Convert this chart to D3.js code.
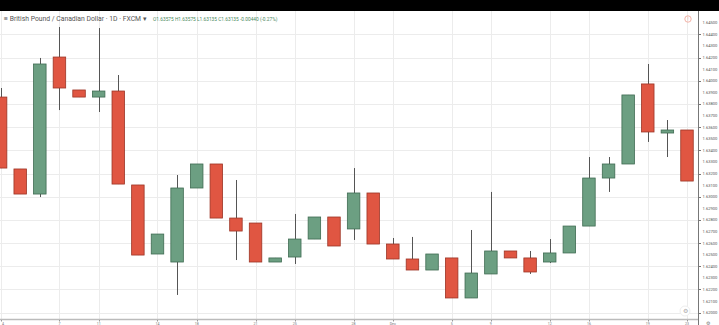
<!DOCTYPE html>
<html><head><meta charset="utf-8">
<script src="https://cdn.jsdelivr.net/npm/d3@7"></script>
<style>html,body{margin:0;padding:0;background:#fff;overflow:hidden}svg{display:block}</style>
</head><body>
<script>
const dates = ["Mon 4","Tue 5","Wed 6","Thu 7","Fri 8","Mon 11","Tue 12","Wed 13","Thu 14","Fri 15","Mon 18","Tue 19","Wed 20","Thu 21","Fri 22","Mon 25","Tue 26","Wed 27","Thu 28","Fri 29","Mon 2","Tue 3","Wed 4","Thu 5","Fri 6","Mon 9","Tue 10","Wed 11","Thu 12","Fri 13","Mon 16","Tue 17","Wed 18","Thu 19","Fri 20","Mon 23"];
const open  = [1.63859,1.63239,1.63023,1.64204,1.63920,1.63859,1.63911,1.63101,1.62506,1.62437,1.63075,1.63282,1.62816,1.62773,1.62437,1.62480,1.62635,1.62825,1.62722,1.63032,1.62592,1.62463,1.62368,1.62472,1.62127,1.62334,1.62532,1.62472,1.62437,1.62515,1.62747,1.63161,1.63282,1.63972,1.63549,1.63575];
const high  = [1.63937,1.63239,1.64196,1.64463,1.63920,1.64454,1.64049,1.63101,1.62678,1.63187,1.63282,1.63282,1.63144,1.62773,1.62472,1.62851,1.62825,1.62825,1.63247,1.63032,1.62644,1.62653,1.62506,1.62472,1.62713,1.63041,1.62532,1.62532,1.62635,1.62747,1.63342,1.63342,1.63877,1.64144,1.63661,1.63575];
const low   = [1.63247,1.63023,1.62997,1.63747,1.63859,1.63730,1.63109,1.62497,1.62506,1.62153,1.63075,1.62816,1.62454,1.62437,1.62437,1.62420,1.62635,1.62575,1.62627,1.62592,1.62463,1.62368,1.62368,1.62127,1.62127,1.62334,1.62472,1.62334,1.62428,1.62515,1.62747,1.63041,1.63282,1.63472,1.63342,1.63135];
const close = [1.63247,1.63023,1.64144,1.63937,1.63859,1.63911,1.63109,1.62497,1.62678,1.63075,1.63282,1.62816,1.62704,1.62437,1.62472,1.62635,1.62825,1.62575,1.63032,1.62592,1.62463,1.62368,1.62506,1.62127,1.62342,1.62532,1.62472,1.62351,1.62515,1.62747,1.63161,1.63282,1.63877,1.63558,1.63575,1.63135];
const xTickIdx = [0,3,5,8,10,13,15,18,20,23,25,28,30,33,35];
const xTickLabels = ["4","7","11","14","18","21","25","28","Dec","5","9","12","16","19","23"];
const priceTicks = d3.range(0,26).map(i => +(1.645 - i*0.001).toFixed(3));
const title = "British Pound / Canadian Dollar · 1D · FXCM";

const W = 719, H = 325;
const svg = d3.select("body").append("svg").attr("width", W).attr("height", H)
  .style("font-family", "Roboto, 'Open Sans', sans-serif");

const plotL = 0, plotR = 698, plotT = 11, plotB = 319;
const x = d3.scaleLinear().domain([0, dates.length - 1]).range([0.6, 687]);
const y = d3.scaleLinear().domain([1.644, 1.620]).range([34.3, 312.7]);

svg.append("rect").attr("x",0).attr("y",0).attr("width",W).attr("height",11).attr("fill","#000");

svg.append("clipPath").attr("id","pc").append("rect")
  .attr("x",plotL).attr("y",plotT).attr("width",plotR-plotL).attr("height",plotB-plotT);

// grid
const grid = svg.append("g");
grid.selectAll("line.h").data(priceTicks.filter((d,i)=>i%2===1)).join("line")
  .attr("x1",plotL).attr("x2",plotR).attr("y1",d=>Math.round(y(d))+0.5).attr("y2",d=>Math.round(y(d))+0.5)
  .attr("stroke","#ececec").attr("stroke-width",1);
grid.selectAll("line.v").data(xTickIdx).join("line")
  .attr("y1",plotT).attr("y2",plotB).attr("x1",d=>Math.round(x(d))+0.5).attr("x2",d=>Math.round(x(d))+0.5)
  .attr("stroke","#ececec").attr("stroke-width",1);

// candles
const data = dates.map((d,i)=>({i, o:open[i], h:high[i], l:low[i], c:close[i]}));
const cg = svg.append("g").attr("clip-path","url(#pc)");
const bw = 12.5;
cg.selectAll("line.wick").data(data).join("line")
  .attr("x1",d=>Math.round(x(d.i))+0.5).attr("x2",d=>Math.round(x(d.i))+0.5)
  .attr("y1",d=>y(d.h)).attr("y2",d=>y(d.l))
  .attr("stroke","#555").attr("stroke-width",1);
cg.selectAll("rect.body").data(data).join("rect")
  .attr("x",d=>x(d.i)-bw/2).attr("width",bw)
  .attr("y",d=>y(Math.max(d.o,d.c)))
  .attr("height",d=>Math.max(1.5, Math.abs(y(d.o)-y(d.c))))
  .attr("fill",d=>d.c>=d.o ? "#6c9f82" : "#e05642")
  .attr("stroke",d=>d.c>=d.o ? "#3f6b52" : "#9c3526")
  .attr("stroke-width",0.8);

// right axis
svg.append("line").attr("x1",698.5).attr("x2",698.5).attr("y1",11).attr("y2",H).attr("stroke","#777").attr("stroke-width",1);
const ya = svg.append("g");
ya.selectAll("line").data(priceTicks.filter((d,i)=>i%2===1)).join("line")
  .attr("x1",698).attr("x2",701).attr("y1",d=>Math.round(y(d))+0.5).attr("y2",d=>Math.round(y(d))+0.5).attr("stroke","#777");
ya.selectAll("text").data(priceTicks).join("text")
  .attr("x",702.5).attr("y",d=>y(d)).attr("dy","0.35em")
  .attr("font-size",4.1).attr("fill","#555").text(d=>d.toFixed(5));

// bottom axis
svg.append("line").attr("x1",0).attr("x2",698).attr("y1",319.5).attr("y2",319.5).attr("stroke","#bbb").attr("stroke-width",1.5);
const xa = svg.append("g");
xa.selectAll("line").data(xTickIdx).join("line")
  .attr("x1",d=>Math.round(x(d))+0.5).attr("x2",d=>Math.round(x(d))+0.5).attr("y1",320).attr("y2",321.5).attr("stroke","#999");
xa.selectAll("text").data(xTickIdx).join("text")
  .attr("x",d=>Math.max(3, x(d))).attr("y",324.6).attr("text-anchor","middle")
  .attr("font-size",3.6).attr("fill","#777").text((d,i)=>xTickLabels[i]);
svg.append("rect").attr("x",699).attr("y",320).attr("width",20).attr("height",5).attr("fill","#fff");
svg.append("text").attr("x",708).attr("y",324.8).attr("text-anchor","middle").attr("font-size",5).attr("fill","#777").text("⚙");

// header
const last = data[data.length-1], prev = data[data.length-2];
const chg = last.c - prev.c;
svg.append("text").attr("x",4).attr("y",21).attr("font-size",6.8).attr("fill","#555").text("≡ " + title + " ▾");
const vals = `O${last.o.toFixed(5)}  H${last.h.toFixed(5)}  L${last.l.toFixed(5)}  C${last.c.toFixed(5)}   ${chg.toFixed(5)} (${(chg/prev.c*100).toFixed(2)}%)`;
svg.append("text").attr("x",153).attr("y",21).attr("font-size",4.8).attr("fill","#4a8a60").text(vals);

// icons
svg.append("circle").attr("cx",688).attr("cy",19).attr("r",3.2).attr("fill","none").attr("stroke","#f0a090").attr("stroke-width",0.8);
svg.append("text").attr("x",688).attr("y",21).attr("text-anchor","middle").attr("font-size",4.5).attr("fill","#f0a090").text("!");
svg.append("circle").attr("cx",685).attr("cy",311).attr("r",5).attr("fill","#fff").attr("stroke","#eee");
svg.append("text").attr("x",685).attr("y",313).attr("text-anchor","middle").attr("font-size",6).attr("fill","#aaa").text("⚙");
</script>
</body></html>
